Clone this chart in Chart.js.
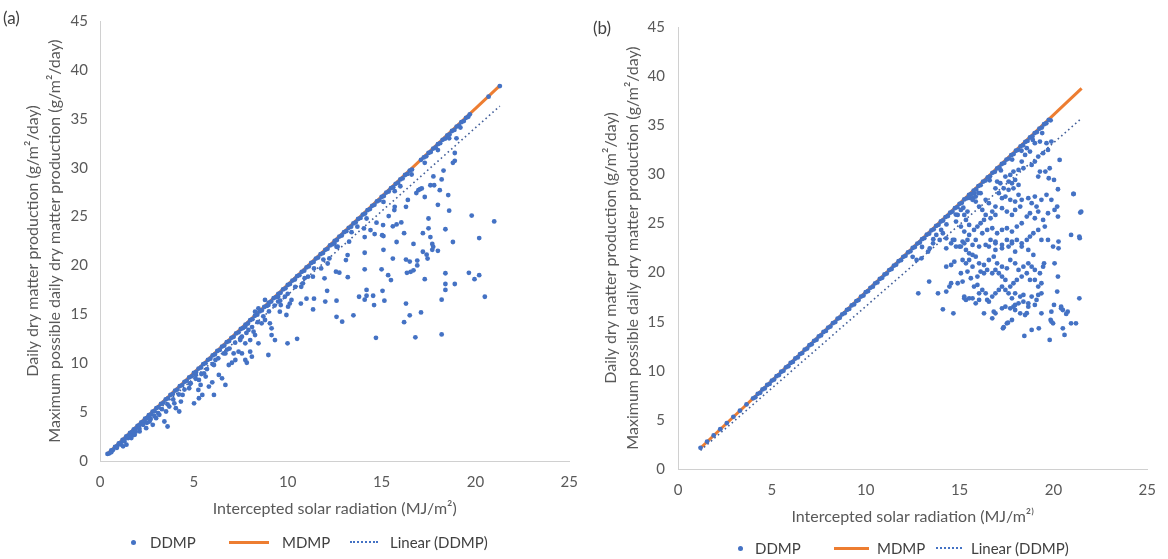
<!DOCTYPE html>
<html>
<head>
<meta charset="utf-8">
<script src="https://cdn.jsdelivr.net/npm/chart.js@4.4.1/dist/chart.umd.min.js"></script>
<style>
  body { margin: 0; background: #fff; width: 1168px; height: 559px; overflow: hidden; position: relative;
         font-family: Lato, "Open Sans", sans-serif; }
  .panel { position: absolute; top: 0; }
  .tag { position: absolute; font-size: 17px; color: #404040; }
  .lg { position: absolute; font-size: 15px; color: #404040; line-height: 18px; white-space: nowrap; }
  .dot { position: absolute; width: 5px; height: 5px; border-radius: 50%; background: #4472C4; }
  .solid { position: absolute; height: 3px; background: #ED7D31; }
  .dotted { position: absolute; height: 0; border-top: 2px dotted #4472C4; }
</style>
</head>
<body>
<div class="panel" style="left:0"><canvas id="chartA" width="590" height="559"></canvas></div>
<div class="panel" style="left:590px"><canvas id="chartB" width="578" height="559"></canvas></div>

<div class="tag" style="left:3px;top:7px">(a)</div>
<div class="tag" style="left:593px;top:17px">(b)</div>

<!-- legend (a) -->
<div class="dot" style="left:131px;top:540px"></div>
<div class="lg" style="left:150px;top:533px">DDMP</div>
<div class="solid" style="left:229px;top:541px;width:40px"></div>
<div class="lg" style="left:282px;top:533px">MDMP</div>
<div class="dotted" style="left:350px;top:541px;width:28px"></div>
<div class="lg" style="left:390px;top:533px">Linear (DDMP)</div>

<!-- legend (b) -->
<div class="dot" style="left:738px;top:546px"></div>
<div class="lg" style="left:755px;top:539px">DDMP</div>
<div class="solid" style="left:834px;top:547px;width:35px"></div>
<div class="lg" style="left:877px;top:539px">MDMP</div>
<div class="dotted" style="left:936px;top:547px;width:26px"></div>
<div class="lg" style="left:971px;top:539px">Linear (DDMP)</div>

<script>
/* ── DATA (a) ─────────────────────────────────────────── */
// DDMP points that sit on the MDMP line
const bandA = [
  [0.4,0.72],[0.6,1.08],[0.8,1.44],[1.0,1.8],[1.2,2.16],[1.4,2.52],[1.6,2.88],[1.8,3.24],[2.0,3.6],[2.2,3.96],
  [2.4,4.32],[2.6,4.68],[2.8,5.04],[3.0,5.4],[3.25,5.85],[3.5,6.3],[3.75,6.75],[4.0,7.2],[4.25,7.65],[4.5,8.1],
  [4.75,8.55],[5.0,9.0],[5.25,9.45],[5.5,9.9],[5.75,10.35],[6.0,10.8],[6.25,11.25],[6.5,11.7],[6.75,12.15],[7.0,12.6],
  [7.25,13.05],[7.5,13.5],[7.75,13.95],[8.0,14.4],[8.25,14.85],[8.5,15.3],[8.75,15.75],[9.0,16.2],[9.25,16.65],[9.5,17.1],
  [9.75,17.55],[10.0,18.0],[10.25,18.45],[10.5,18.9],[10.75,19.35],[11.0,19.8],[11.25,20.25],[11.5,20.7],[11.75,21.15],[12.0,21.6],
  [12.25,22.05],[12.5,22.5],[12.75,22.95],[13.0,23.4],[13.25,23.85],[13.5,24.3],[13.75,24.75],[14.0,25.2],[14.25,25.65],[14.5,26.1],
  [14.75,26.55],[15.0,27.0],[15.25,27.45],[15.5,27.9],[15.75,28.35],[16.0,28.8],[16.25,29.25],[16.5,29.7],[17.1,30.8],
  [17.25,31.05],[17.5,31.5],[17.75,31.95],[18.0,32.4],[18.25,32.85],[18.5,33.3],[18.75,33.75],[19.0,34.2],[19.25,34.65],[19.5,35.1],
  [19.7,35.46],[20.7,37.26],[21.3,38.34]
];
const bandAmid = [
  [0.5,0.78],[0.7,1.14],[0.9,1.5],[1.1,1.86],[1.3,2.22],[1.5,2.58],[1.7,2.94],[1.9,3.3],[2.1,3.66],[2.3,4.02],
  [2.5,4.38],[2.7,4.74],[2.9,5.1],[3.12,5.5],[3.38,5.96],[3.62,6.4],[3.88,6.86],[4.12,7.3],[4.38,7.76],[4.62,8.2],
  [4.88,8.66],[5.12,9.1],[5.38,9.56],[5.62,10.0],[5.88,10.46],[6.12,10.9],[6.38,11.36],[6.62,11.8],[6.88,12.26],[7.12,12.7],
  [7.38,13.16],[7.62,13.6],[7.88,14.06],[8.12,14.5],[8.38,14.96],[8.62,15.4],[8.88,15.86],[9.12,16.3],[9.38,16.76],[9.62,17.2],
  [9.88,17.66],[10.12,18.1],[10.38,18.56],[10.62,19.0],[10.88,19.46],[11.12,19.9],[11.38,20.36],[11.62,20.8],[11.88,21.26],[12.12,21.7],
  [12.38,22.16],[12.62,22.6],[12.88,23.06],[13.12,23.5],[13.38,23.96],[13.62,24.4],[13.88,24.86],[14.12,25.3],[14.38,25.76],[14.62,26.2],
  [14.88,26.66],[15.12,27.1],[15.38,27.56],[15.62,28.0],[15.88,28.46],[16.12,28.9],[16.38,29.36],[16.62,29.8],[17.38,31.16],[17.62,31.6],
  [17.88,32.06],[18.12,32.5],[18.38,32.96],[18.62,33.4],[18.88,33.86],[19.12,34.3],[19.38,34.76],[19.62,35.2]
];
// DDMP points just under the line
const nearA = [
  [0.6,0.9],[0.9,1.35],[1.1,1.7],[1.3,2.0],[1.5,2.35],[1.7,2.6],[1.9,3.0],[2.1,3.3],[2.3,3.7],[2.5,3.9],
  [2.7,4.3],[2.9,4.6],[3.1,4.9],[3.3,5.3],[3.6,5.8],[3.9,6.3],[4.2,6.8],[4.5,7.3],[4.8,7.9],[5.1,8.4],
  [5.4,8.9],[5.7,9.4],[6.0,9.9],[6.3,10.5],[6.6,11.0],[6.9,11.5],[7.2,12.1],[7.5,12.6],[7.8,13.1],[8.1,13.7],
  [8.4,14.2],[8.7,14.8],[9.0,15.3],[9.3,15.9],[9.6,16.4],[10.0,17.1],[10.4,17.8],[10.9,18.7],[11.4,19.7],[11.9,20.6],
  [12.6,21.9],[13.4,23.4],[14.2,24.8],[15.1,26.5],[16.0,28.1],[16.6,29.3],[17.3,30.5],[18.0,31.8],[18.6,33.0],[19.2,34.1]
];
// scattered DDMP points
const scatterA = [
  [18.99,33.0],[18.9,31.5],[18.9,30.7],[18.8,30.5],[18.3,29.7],[17.76,29.1],[18.2,28.8],[17.6,28.2],[17.8,28.2],[18.1,27.7],
  [17.05,27.8],[16.85,27.4],[17.3,27.0],[18.55,27.2],[16.4,26.7],[15.7,27.6],[18.0,26.2],[16.3,26.0],[15.7,26.0],[18.6,25.6],
  [19.8,25.1],[21.0,24.5],[17.5,24.8],[16.05,24.4],[15.8,24.2],[15.6,24.0],[17.2,23.3],[17.5,23.8],[18.4,23.7],[20.2,22.8],
  [16.2,23.3],[15.1,23.0],[14.1,22.9],[17.6,22.9],[18.8,22.4],[15.8,22.4],[16.7,22.2],[17.7,22.2],[17.75,21.9],[17.7,21.6],
  [18.0,21.5],[17.2,21.4],[17.4,21.1],[17.45,20.7],[15.1,21.6],[14.1,21.3],[15.6,20.7],[16.3,20.6],[16.5,20.4],[16.9,20.5],
  [16.9,20.0],[14.1,19.6],[15.0,19.6],[16.35,19.25],[16.55,19.35],[16.7,19.5],[15.35,19.0],[15.5,18.5],[13.2,18.8],[17.3,18.6],
  [18.4,19.2],[19.65,19.25],[19.95,18.6],[20.2,19.0],[18.9,18.1],[18.4,18.1],[18.4,17.5],[14.2,17.5],[15.05,17.4],[12.1,17.4],
  [13.8,16.8],[14.2,16.9],[14.1,16.5],[14.55,16.9],[12.6,16.4],[12.0,16.3],[15.15,16.4],[14.6,15.95],[16.3,16.1],[18.2,16.5],
  [20.5,16.8],[11.4,16.6],[11.35,15.5],[11.0,16.6],[10.7,16.1],[12.6,14.75],[12.9,14.25],[13.5,14.9],[16.5,14.9],[17.1,15.2],
  [16.2,14.2],[10.5,12.5],[14.7,12.6],[16.8,12.65],[18.2,12.95],
  [13.19,21.06],[13.1,20.55],[12.22,20.72],[12.13,20.2],[12.57,19.36],[12.75,19.26],[11.78,19.7],[11.96,18.68],[11.08,18.85],[11.34,18.85],
  [10.81,18.17],[10.72,17.82],[12.48,22.26],[12.66,21.91],[13.27,22.43],[13.71,23.96],[14.06,23.79],[14.41,23.62],[14.63,23.21],[15.03,23.1],
  [14.73,24.37],[15.08,24.13],[15.38,25.05],[15.68,25.66],[16.96,27.7],[17.14,27.88],
  [9.99,12.03],[8.97,10.84],[9.14,12.88],[9.32,12.37],[9.58,15.27],[9.93,14.93],[10.02,15.78],[10.11,16.1],[9.63,15.95],[9.49,16.3],
  [9.05,14.08],[9.14,13.57],[8.61,14.08],[8.79,14.42],[8.18,13.23],[8.26,12.88],[8.44,12.03],[8.0,12.37],[7.74,12.03],[7.56,12.71],
  [7.47,12.37],[7.38,11.18],[7.56,11.0],[7.74,10.33],[7.82,10.05],[8.0,11.18],[8.09,10.67],[7.21,10.33],[7.03,10.05],[6.86,9.82],
  [7.12,11.0],[6.68,11.0],[6.77,11.4],[6.15,10.33],[6.07,9.82],[6.33,8.8],[6.5,8.46],[6.68,7.78],[5.98,8.05],[5.8,7.61],
  [5.63,8.63],[5.54,8.97],[5.36,7.78],[5.24,7.27],[5.45,6.76],[5.27,6.42],[5.01,5.9],[6.07,6.76],[4.83,7.95],[4.75,7.44],
  [4.4,6.76],[4.31,6.08],[4.04,5.4],[4.22,5.06],[3.96,5.9],[3.69,5.57],[3.52,5.06],[3.43,4.04],[3.6,3.53],[3.16,4.72],
  [2.99,4.38],[2.64,4.04],[2.81,3.7],[2.46,3.36],[2.11,3.02],[1.85,2.68],[1.67,2.35],[1.41,1.67],[1.23,1.5],[5.1,8.8],
  [5.27,8.29],[8.79,16.47],[8.97,15.95],[8.26,15.27],[8.44,15.61],[7.74,13.74],[7.91,13.4],[9.49,16.8],[9.85,16.8],[10.2,16.47]
];
const mdmpA  = [[0.4, 0.72], [21.3, 38.4]];
const trendA = [[0.4, 0.6], [21.3, 36.3]];

/* ── DATA (b) ─────────────────────────────────────────── */
const bandB = [
  [1.2,2.16],[1.55,2.79],[1.9,3.42],[2.25,4.05],[2.6,4.68],[2.95,5.31],[3.3,5.94],[3.65,6.57],[4.0,7.2],[4.25,7.65],
  [4.5,8.1],[4.75,8.55],[5.0,9.0],[5.25,9.45],[5.5,9.9],[5.75,10.35],[6.0,10.8],[6.25,11.25],[6.5,11.7],[6.75,12.15],
  [7.0,12.6],[7.25,13.05],[7.5,13.5],[7.75,13.95],[8.0,14.4],[8.25,14.85],[8.5,15.3],[8.75,15.75],[9.0,16.2],[9.25,16.65],
  [9.5,17.1],[9.75,17.55],[10.0,18.0],[10.25,18.45],[10.5,18.9],[10.75,19.35],[11.0,19.8],[11.25,20.25],[11.5,20.7],[11.75,21.15],
  [12.0,21.6],[12.25,22.05],[12.5,22.5],[12.75,22.95],[13.0,23.4],[13.25,23.85],[13.5,24.3],[13.75,24.75],[14.0,25.2],[14.25,25.65],
  [14.5,26.1],[14.75,26.55],[15.0,27.0],[15.25,27.45],[15.5,27.9],[15.75,28.35],[16.0,28.8],[16.25,29.25],[16.5,29.7],[16.75,30.15],
  [17.0,30.6],[17.25,31.05],[17.5,31.5],[17.75,31.95],[18.0,32.4],[18.25,32.85],[18.5,33.3],[18.75,33.75],[19.0,34.2],[19.25,34.65],
  [19.5,35.1],[19.75,35.55]
];
const bandBmid = [
  [4.12,7.3],[4.38,7.76],[4.62,8.2],[4.88,8.66],[5.12,9.1],[5.38,9.56],[5.62,10.0],[5.88,10.46],[6.12,10.9],[6.38,11.36],
  [6.62,11.8],[6.88,12.26],[7.12,12.7],[7.38,13.16],[7.62,13.6],[7.88,14.06],[8.12,14.5],[8.38,14.96],[8.62,15.4],[8.88,15.86],
  [9.12,16.3],[9.38,16.76],[9.62,17.2],[9.88,17.66],[10.12,18.1],[10.38,18.56],[10.62,19.0],[10.88,19.46],[11.12,19.9],[11.38,20.36],
  [11.62,20.8],[11.88,21.26],[12.12,21.7],[12.38,22.16],[12.62,22.6],[12.88,23.06],[13.12,23.5],[13.38,23.96],[13.62,24.4],[13.88,24.86],
  [14.12,25.3],[14.38,25.76],[14.62,26.2],[14.88,26.66],[15.12,27.1],[15.38,27.56],[15.62,28.0],[15.88,28.46],[16.12,28.9],[16.38,29.36],
  [16.62,29.8],[16.88,30.26],[17.12,30.7],[17.38,31.16],[17.62,31.6],[17.88,32.06],[18.12,32.5],[18.38,32.96],[18.62,33.4],[18.88,33.86],
  [19.12,34.3],[19.38,34.76],[19.62,35.2]
];
const scatterB = [
  [20.33,31.47],[21.08,28.01],[21.43,26.11],[21.38,23.66],[20.24,28.48],[20.2,26.72],[20.24,25.7],[20.03,29.43],[19.75,29.6],[19.57,30.28],
  [19.8,30.62],[19.19,29.77],[19.28,30.28],[18.84,30.96],[19.01,31.3],[19.19,31.81],[19.45,32.15],[19.71,32.49],[19.89,33.34],[19.63,33.17],
  [19.01,33.17],[19.28,33.34],[18.75,32.32],[18.58,32.66],[18.49,31.98],[18.31,31.3],[18.4,30.62],[18.14,30.45],[17.87,30.28],[17.7,29.94],
  [17.44,29.77],[17.61,29.26],[17.79,29.09],[17.96,29.43],[18.14,28.92],[17.87,28.58],[17.61,28.42],[17.35,28.58],[17.17,29.09],[17.0,29.26],
  [16.91,28.58],[17.09,28.08],[17.26,27.57],[17.44,27.74],[17.7,27.4],[17.96,27.23],[18.14,27.91],[18.31,27.4],[18.23,26.72],[17.96,26.38],
  [17.79,25.87],[17.52,26.21],[17.26,26.55],[16.91,26.72],[16.74,26.21],[16.91,25.87],[16.65,25.53],[16.39,25.87],[16.21,26.38],[16.04,26.72],
  [15.86,27.23],[15.69,27.57],[15.51,27.6],[15.77,28.05],[16.12,28.08],[16.39,27.4],[16.56,27.06],[16.3,25.36],[16.12,25.02],[15.95,24.68],
  [15.77,24.34],[15.51,24.85],[15.34,25.36],[15.25,25.87],[15.42,26.21],[15.07,26.38],[14.9,25.87],[14.81,25.19],[15.07,24.68],[15.25,24.17],
  [15.51,23.83],[15.42,23.32],[15.16,23.15],[14.99,22.64],[14.72,23.32],[14.55,22.98],[14.29,23.49],[14.11,24.0],[13.76,23.83],[13.94,23.32],
  [13.59,22.98],[13.41,22.47],[16.21,24.0],[16.47,24.34],[16.74,24.51],[17.0,24.0],[17.26,24.34],[17.52,24.51],[17.79,24.17],[18.05,24.68],
  [18.31,25.02],[18.58,25.7],[18.75,26.04],[19.01,25.53],[19.19,26.21],[19.1,26.72],[18.84,27.06],[18.66,27.57],[19.01,27.74],[19.36,27.4],
  [19.63,27.91],[19.89,27.4],[20.06,26.38],[19.71,26.04],[19.45,25.36],[19.54,24.68],[19.19,24.34],[18.93,24.0],[18.75,23.66],[18.58,23.32],
  [18.31,22.98],[18.05,23.32],[17.79,22.98],[17.52,23.32],[17.26,22.81],[16.91,22.98],[16.65,23.32],[16.39,22.81],[16.04,22.64],[15.86,23.32],
  [15.69,22.81],[19.36,23.32],[19.71,23.32],[19.98,22.64],[20.94,23.83],
  [12.8,17.89],[13.38,19.08],[13.85,17.89],[14.11,16.26],[14.29,18.06],[14.46,18.57],[14.55,18.91],[14.29,20.6],[14.55,20.77],[14.72,21.11],
  [14.67,15.85],[14.81,22.64],[15.07,22.64],[15.25,22.98],[15.34,22.3],[15.51,21.96],[15.69,21.79],[15.86,21.62],[15.16,21.28],[15.34,20.94],
  [15.51,21.28],[15.07,19.93],[14.9,18.91],[15.16,19.08],[15.25,17.55],[15.34,17.21],[15.69,17.38],[15.77,18.57],[15.95,18.74],[16.21,18.23],
  [16.04,17.89],[16.39,17.89],[16.47,17.21],[16.56,17.04],[16.74,17.55],[16.91,17.89],[17.09,18.23],[17.26,18.57],[17.44,18.23],[17.61,17.89],
  [17.79,17.38],[17.96,17.89],[18.23,17.55],[18.4,17.72],[18.66,16.87],[18.84,17.55],[19.1,17.21],[19.19,17.72],[19.36,17.89],[19.36,18.91],
  [19.19,18.57],[19.01,19.25],[18.75,19.25],[18.58,19.93],[18.31,19.59],[18.05,19.25],[17.87,18.91],[17.7,18.57],[17.44,19.25],[17.26,19.59],
  [17.09,19.93],[16.91,20.27],[16.74,19.93],[16.47,20.27],[16.3,19.93],[16.12,20.1],[15.95,19.59],[15.6,19.42],[15.42,20.1],[15.69,20.6],
  [16.04,20.94],[16.3,20.77],[16.56,21.28],[16.82,21.62],[17.0,20.94],[17.26,20.6],[17.52,20.43],[17.7,21.28],[17.96,20.94],[18.14,20.27],
  [18.4,20.6],[18.66,20.94],[18.84,20.6],[19.01,20.27],[19.28,19.93],[19.45,20.6],[19.5,20.94],[20.06,20.94],[20.24,19.59],[20.2,18.06],
  [20.41,16.53],[20.5,16.19],[20.76,16.02],[20.94,14.83],[21.2,14.83],[21.38,17.38],[20.03,16.7],[19.89,16.02],[19.85,15.17],[19.98,14.83],
  [20.5,14.32],[20.59,13.65],[19.8,13.14],[19.22,14.32],[18.84,14.16],[18.45,13.55],[17.79,15.17],[17.52,14.83],[17.31,14.32],[16.82,16.02],
  [16.74,15.34],[16.91,15.85],[17.26,16.36],[17.44,16.53],[17.7,16.36],[17.96,16.19],[18.23,15.85],[18.49,15.68],[18.66,16.53],[19.01,16.7],
  [19.36,15.85],[18.4,17.04],[18.14,16.87],[17.87,16.53],[16.3,15.85],[16.04,17.21],[15.86,16.87],[20.27,22.47],[20.27,23.15],[16.56,22.64],
  [16.91,22.3],[17.26,22.47],[17.61,22.64],[17.96,22.13],[18.31,22.64],[18.66,22.3],[18.93,21.79],[16.91,23.15],[17.79,23.15],
  [13.32,22.13],[14.02,24.34],[14.29,22.47],[14.64,23.32],[12.71,21.28],[12.97,21.45],[15.69,27.4],[15.86,27.74],
  [21.48,26.2],[21.4,23.5],[21.06,28.0],[15.25,17.38],[15.51,17.38],[17.35,14.43],[17.58,14.9],[19.89,15.01],[20.41,16.36],[20.68,15.79],
  [18.58,15.86],[17.96,16.7],
  [12.5,21.6],[13.0,22.6],[13.6,23.4],[14.3,24.9],[14.8,25.9],[15.2,26.6],[16.0,28.1],[16.6,29.4],[17.2,30.4],[17.8,31.5],
  [18.3,32.4],[18.9,33.5],[19.4,34.2],[19.85,35.5]
];
const mdmpB  = [[1.2, 2.14], [21.5, 38.75]];
const trendB = [[1.2, 1.9], [21.5, 35.7]];

/* ── STYLE ───────────────────────────────────────────── */
const BLUE = '#4472C4';
const ORANGE = '#ED7D31';
const TEXT = '#595959';
const FONT = 'Lato, "Open Sans", sans-serif';
const xy = arr => arr.map(p => ({ x: p[0], y: p[1] }));

function makePanel(id, ddmp, mdmp, trend, lay) {
  new Chart(document.getElementById(id), {
    type: 'scatter',
    data: {
      datasets: [
        { label: 'DDMP', data: xy(ddmp), backgroundColor: BLUE, borderWidth: 0,
          pointRadius: 2.4, order: 0 },
        { label: 'Linear (DDMP)', type: 'line', data: xy(trend), borderColor: '#44609a',
          borderWidth: 1.6, borderDash: [1.6, 3], pointRadius: 0, fill: false, order: 1 },
        { label: 'MDMP', type: 'line', data: xy(mdmp), borderColor: ORANGE, borderWidth: 3,
          pointRadius: 0, fill: false, order: 2 },
      ],
    },
    options: {
      responsive: false,
      animation: false,
      layout: { padding: { left: 0, top: lay.top, right: lay.right, bottom: lay.bottom } },
      plugins: { legend: { display: false }, tooltip: { enabled: false } },
      scales: {
        x: {
          type: 'linear', min: 0, max: 25,
          grid: { display: false, drawTicks: false },
          border: { color: '#d0d0d0', width: 1 },
          ticks: { stepSize: 5, padding: 12, color: TEXT, font: { family: FONT, size: 15 } },
          title: { display: true, text: lay.xTitle, color: TEXT, padding: { top: 0, bottom: 3 },
                   font: { family: FONT, size: 16 } },
          afterFit: s => { s.height = 60; },
        },
        y: {
          min: 0, max: 45,
          grid: { display: false, drawTicks: false },
          border: { color: '#d0d0d0', width: 1 },
          ticks: { stepSize: 5, padding: lay.yPad, color: TEXT, font: { family: FONT, size: 15 } },
          title: {
            display: true,
            text: ['Daily dry matter production (g/m²/day)',
                   'Maximum possible daily dry matter production (g/m²/day)'],
            color: TEXT, padding: { top: lay.yTitleTop, bottom: 0 },
            font: { family: FONT, size: 16, lineHeight: 1.375 },
          },
          afterFit: s => { s.width = lay.yWidth; },
        },
      },
    },
  });
}

makePanel('chartA', bandA.concat(bandAmid, nearA, scatterA), mdmpA, trendA,
  { top: 21, right: 16, bottom: 38, yWidth: 100, yPad: 12, yTitleTop: 22,
    xTitle: 'Intercepted solar radiation (MJ/m²)' });

makePanel('chartB', bandB.concat(bandBmid, scatterB), mdmpB, trendB,
  { top: 27, right: 14, bottom: 30, yWidth: 88, yPad: 13, yTitleTop: 10,
    xTitle: 'Intercepted solar radiation (MJ/m²⁾' });
</script>
</body>
</html>
